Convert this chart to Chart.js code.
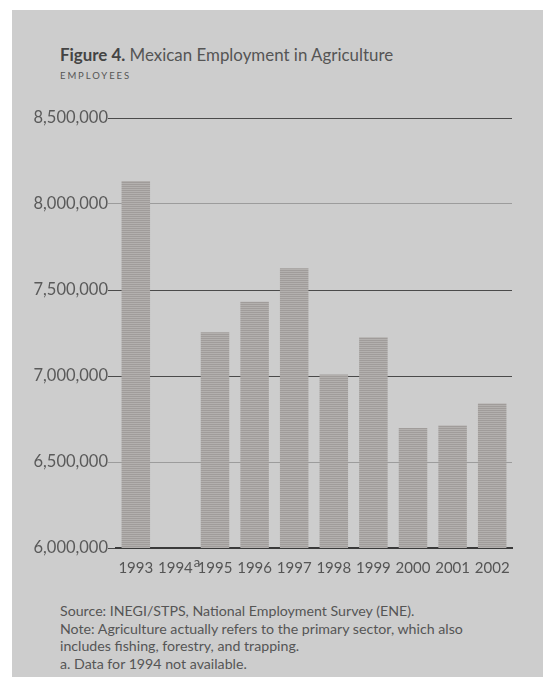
<!DOCTYPE html>
<html>
<head>
<meta charset="utf-8">
<script src="https://cdn.jsdelivr.net/npm/chart.js@4"></script>
<style>
    html { background: #cdcdcd; }
    body { margin: 0; overflow: hidden; font-family: Lato, "Open Sans", sans-serif; }
    #topStrip { position: absolute; left: 0; top: 0; width: 2000px; height: 10px; background: #fff; }
    #leftStrip { position: absolute; left: 0; top: 0; width: 12px; height: 2000px; background: #fff; }
    #panel { position: absolute; left: 12px; top: 10px; width: 531px; height: 667px; }
    #title { position: absolute; left: 48px; top: 34px; font-size: 16.9px; color: #555; white-space: nowrap; }
    #title b { color: #444; }
    #units { position: absolute; left: 48px; top: 60px; font-size: 9.5px; color: #555; letter-spacing: 1.9px; }
    #chartBox { position: absolute; left: -12px; top: 90px; width: 543px; height: 480px; }
    #notes { position: absolute; left: 48px; top: 592px; font-size: 14.2px; line-height: 17.7px; color: #555; white-space: nowrap; }
</style>
</head>
<body>
<div id="topStrip"></div>
<div id="leftStrip"></div>
<div id="panel">
    <div id="title"><b>Figure 4.</b> Mexican Employment in Agriculture</div>
    <div id="units">EMPLOYEES</div>
    <div id="chartBox"><canvas id="barChart"></canvas></div>
    <div id="notes">
        Source: INEGI/STPS, National Employment Survey (ENE).<br>
        Note: Agriculture actually refers to the primary sector, which also<br>
        includes fishing, forestry, and trapping.<br>
        a. Data for 1994 not available.
    </div>
</div>
<script>
// values (1994 has no data)
var years = ['1993', '1994', '1995', '1996', '1997', '1998', '1999', '2000', '2001', '2002'];
var employees = [8133000, null, 7255000, 7432000, 7626000, 7008000, 7226000, 6697000, 6712000, 6840000];
var yTicks = [6000000, 6500000, 7000000, 7500000, 8000000, 8500000];
var footnoteYear = '1994';

var xFont = { family: 'Lato', size: 15 };

// striped fill like the printed bars
function makeStripes() {
    var c = document.createElement('canvas');
    c.width = 4;
    c.height = 2;
    var g = c.getContext('2d');
    g.fillStyle = '#b3b0ae';
    g.fillRect(0, 0, 4, 2);
    g.fillStyle = '#a09c9a';
    g.fillRect(0, 0, 4, 1);
    return g.createPattern(c, 'repeat');
}

// superscript "a" after the 1994 label
var footnoteMark = {
    id: 'footnoteMark',
    afterDraw: function (chart) {
        var x = chart.scales.x;
        var i = years.indexOf(footnoteYear);
        var g = chart.ctx;
        g.save();
        g.font = xFont.size + 'px ' + xFont.family;
        var w = g.measureText(footnoteYear).width;
        var px = x.getPixelForTick(i) + w / 2 + 1;
        g.font = '13px ' + xFont.family;
        g.fillStyle = '#555';
        g.textAlign = 'left';
        g.textBaseline = 'alphabetic';
        g.fillText('a', px, x.top + 19);
        g.restore();
    }
};

var ctx = document.getElementById('barChart');
var barGraph = new Chart(ctx, {
    type: 'bar',
    data: {
        labels: years,
        datasets: [{
            label: 'Employees',
            data: employees,
            backgroundColor: makeStripes(),
            borderWidth: 0,
            barPercentage: 0.72,
            categoryPercentage: 1
        }]
    },
    plugins: [footnoteMark],
    options: {
        responsive: true,
        maintainAspectRatio: false,
        animation: false,
        layout: { padding: { top: 18, right: 31, left: 0, bottom: 0 } },
        plugins: { legend: { display: false }, tooltip: { enabled: false } },
        scales: {
            x: {
                grid: { display: false },
                border: { color: '#3a3a3a', width: 2 },
                ticks: { color: '#555', font: xFont, padding: 3, maxRotation: 0, autoSkip: false }
            },
            y: {
                min: 6000000,
                max: 8500000,
                afterBuildTicks: function (scale) {
                    scale.ticks = yTicks.map(function (v) { return { value: v }; });
                },
                afterFit: function (scale) { scale.width = 116; },
                grid: {
                    color: function (c) {
                        var v = c.tick ? c.tick.value : 0;
                        return (v === 8000000 || v === 6500000) ? '#9c9c9c' : '#4a4a4a';
                    },
                    lineWidth: 1,
                    tickLength: 8
                },
                border: { display: false },
                ticks: {
                    color: '#5a5a5a',
                    padding: 0,
                    font: { family: 'Lato', size: 16.5 },
                    callback: function (v) { return v.toLocaleString('en-US'); }
                }
            }
        }
    }
});
</script>
</body>
</html>
